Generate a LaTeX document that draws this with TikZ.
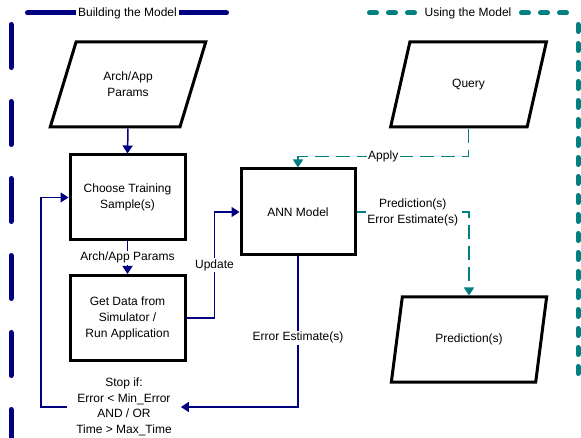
\documentclass[tikz,border=0pt]{standalone}
\usepackage{fontspec}
\setmainfont{Liberation Sans}
\usetikzlibrary{shapes.geometric,arrows.meta}
\definecolor{buildblue}{RGB}{0,0,128}
\definecolor{useteal}{RGB}{0,128,128}
\tikzset{
  datashape/.style={draw=black, line width=3pt, trapezium, trapezium left angle=63.7,
    trapezium right angle=116.3, trapezium stretches=true, minimum width=156pt,
    minimum height=85pt, inner sep=0pt, align=center},
  stepbox/.style={draw=black, line width=3pt, minimum width=115pt, minimum height=85pt, align=center},
  buildline/.style={draw=buildblue, line width=1.5pt, -{Triangle[width=10pt,length=8pt]}},
  useline/.style={draw=useteal, line width=1.7pt, dash pattern=on 14pt off 7pt, -{Triangle[width=10pt,length=8pt]}},
  lbl/.style={fill=white, inner sep=1.5pt, align=center},
  framelabel/.style={fill=white, inner sep=2pt}
}

\begin{document}
\begin{tikzpicture}[x=1pt, y=-1pt, font=\fontsize{12}{16}\selectfont]
  \useasboundingbox (0,0) rectangle (581,438);
  \begin{scope}
%% the two dashed frames round the two halves
    \draw[buildblue, line width=5pt, line cap=round, dash pattern=on 43pt off 34pt] (11,24.5) -- (11,445);
    \draw[buildblue, line width=5pt, line cap=round] (27.5,13) -- (226.5,13);
    \node[framelabel] (buildtitle) at (127.5,13) {Building the Model};
    \draw[useteal, line width=5pt, line cap=round, dash pattern=on 7pt off 12pt] (369.5,13) -- (567,13);
    \draw[useteal, line width=5pt, line cap=round, dash pattern=on 7pt off 12pt] (578,24.5) -- (578,378);
    \node[framelabel] (usetitle) at (468,13) {Using the Model};
  \end{scope}

  \node[datashape] (arch) at (128,84.5) {Arch/App\\Params};
  \node[stepbox] (choose) at (127.5,197.5) {Choose Training\\Sample(s)};
  \node[stepbox] (getdata) at (127.5,318) {Get Data from\\Simulator /\\Run Application};
  \node[stepbox, minimum width=114pt, minimum height=86pt] (ann) at (298,212) {ANN Model};
  \node[datashape] (query) at (468.5,84.5) {Query};
  \node[datashape] (pred) at (469,339.5) {Prediction(s)};
  \node[inner xsep=9pt, inner ysep=1pt, align=center, font=\fontsize{12}{15.5}\selectfont] (stop) at (124,407)
    {Stop if:\\Error < Min\_Error\\AND / OR\\Time > Max\_Time};

%% training loop
  \draw[buildline] (arch.center |- arch.south) -- (choose.north);
  \draw[buildline] (choose.south) -- node[lbl] {Arch/App Params} (getdata.north);
  \draw[buildline] (getdata.east) -- ++(28,0) |- node[lbl, pos=0.25] {Update} (ann.west);
  \draw[buildline] (ann.south) |- node[lbl, pos=0.27] {Error Estimate(s)} (stop.east);
  \draw[buildline] (stop.west) -- ++(-26,0) |- (choose.west);

%% using the trained model
  \draw[useline] (query.center |- query.south) -- ++(0,28) -| node[lbl, pos=0.25] {Apply} (ann.north);
  \draw[useline] (ann.east) -| node[lbl, pos=0.25] {Prediction(s)\\Error Estimate(s)} (pred.center |- pred.north);
\end{tikzpicture}
\end{document}
